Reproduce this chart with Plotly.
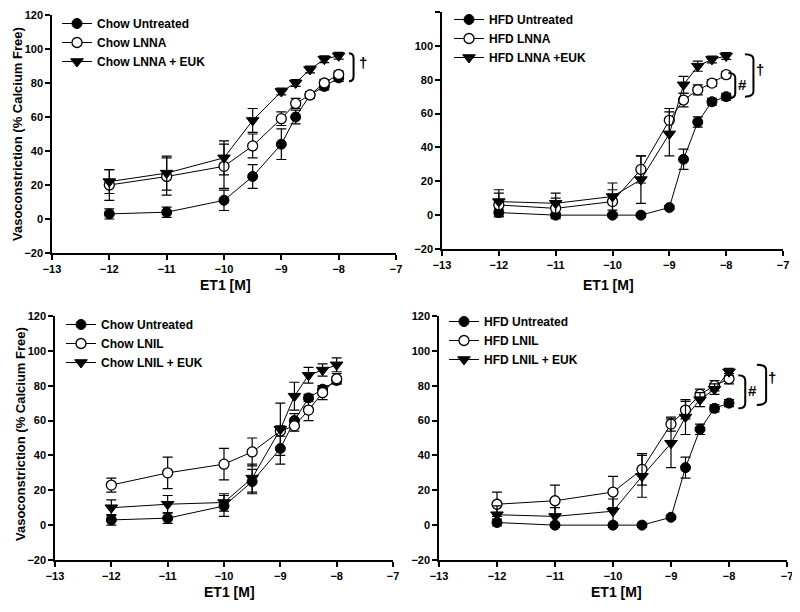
import plotly.graph_objects as go

# ---------------- data ----------------
et1_conc = [-12, -11, -10, -9.5, -9, -8.75, -8.5, -8.25, -8]

# Panel A: Chow, LNNA
chow_untreated = [3, 4, 11, 25, 44, 60, 73, 78, 83]
chow_untreated_err = [3, 3, 6, 7, 9, 4, 2, 2, 2]
chow_lnna = [20, 25, 31, 43, 59, 68, 73, 80, 85]
chow_lnna_err = [9, 11, 13, 7, 4, 3, 2, 2, 2]
chow_lnna_euk = [22, 27, 36, 58, 75, 80, 88, 94, 96]
chow_lnna_euk_err = [7, 10, 10, 7, 2, 2, 2, 2, 2]

# Panel B: HFD, LNNA
hfd_untreated = [1.5, 0, 0, 0, 4.5, 33, 55, 67, 70]
hfd_untreated_err = [2, 1, 1, 1, 1, 6, 3, 2, 2]
hfd_lnna = [6, 4, 8, 27, 56, 68, 74, 78, 83]
hfd_lnna_err = [7, 6, 7, 8, 7, 4, 3, 2, 2]
hfd_lnna_euk = [8, 7, 11, 21, 48, 77, 88, 92, 94]
hfd_lnna_euk_err = [7, 6, 8, 14, 13, 5, 3, 2, 2]

# Panel C: Chow, LNIL
chow_lnil = [23, 30, 35, 42, 54, 57, 66, 76, 84]
chow_lnil_err = [4, 9, 9, 8, 3, 3, 6, 4, 3]
chow_lnil_euk = [10, 12, 13, 27, 55, 74, 86, 89, 92]
chow_lnil_euk_err = [4.5, 5, 5, 8, 15, 8, 4.5, 3.5, 4]

# Panel D: HFD, LNIL
hfd_lnil = [12, 14, 19, 32, 58, 66, 75, 80, 84]
hfd_lnil_err = [7, 9, 9, 9, 4, 5, 3, 3, 3]
hfd_lnil_euk = [6, 5, 8, 28, 47, 62, 72, 78, 88]
hfd_lnil_euk_err = [5, 5, 7, 12, 14, 10, 4, 3, 2]

x_ticks = [-13, -12, -11, -10, -9, -8, -7]
y_ticks = [-20, 0, 20, 40, 60, 80, 100, 120]

panels = [
    ("", "legend", [("Chow Untreated", chow_untreated, chow_untreated_err, "filled"),
                    ("Chow LNNA", chow_lnna, chow_lnna_err, "open"),
                    ("Chow LNNA + EUK", chow_lnna_euk, chow_lnna_euk_err, "tri")]),
    ("2", "legend2", [("HFD Untreated", hfd_untreated, hfd_untreated_err, "filled"),
                      ("HFD LNNA", hfd_lnna, hfd_lnna_err, "open"),
                      ("HFD LNNA +EUK", hfd_lnna_euk, hfd_lnna_euk_err, "tri")]),
    ("3", "legend3", [("Chow Untreated", chow_untreated, chow_untreated_err, "filled"),
                      ("Chow LNIL", chow_lnil, chow_lnil_err, "open"),
                      ("Chow LNIL + EUK", chow_lnil_euk, chow_lnil_euk_err, "tri")]),
    ("4", "legend4", [("HFD Untreated", hfd_untreated, hfd_untreated_err, "filled"),
                      ("HFD LNIL", hfd_lnil, hfd_lnil_err, "open"),
                      ("HFD LNIL + EUK", hfd_lnil_euk, hfd_lnil_euk_err, "tri")]),
]

# the page body has an 8px margin, so the figure is drawn 8px in from the window corner
OFF = 8
W, H = 800 - OFF, 612 - OFF
FONT = "Arial, Liberation Sans, Helvetica, sans-serif"

def px_x(p):
    return (p - OFF) / W

def px_y(p):
    return 1 - (p - OFF) / H

# plot areas in window pixels (left, right, top, bottom)
areas = [(52, 396, 15, 253), (442, 783, 12, 249), (55, 393, 316, 560), (439, 787, 316, 560)]
legend_pos = [(57, 9), (449, 5), (61, 310), (444, 307)]

styles = {
    "filled": dict(symbol="circle", size=10, color="black", line=dict(color="black", width=1)),
    "open": dict(symbol="circle", size=10, color="white", line=dict(color="black", width=1.3)),
    "tri": dict(symbol="triangle-down", size=11, color="black", line=dict(color="black", width=1)),
}

fig = go.Figure()

for suffix, leg, series in panels:
    for name, yv, ev, st in series:
        fig.add_trace(go.Scatter(
            x=et1_conc, y=yv, name=name, mode="lines+markers",
            xaxis="x" + suffix, yaxis="y" + suffix, legend=leg,
            line=dict(color="black", width=1),
            marker=styles[st],
            error_y=dict(type="data", array=ev, visible=True, color="black",
                         thickness=1.2, width=5),
            cliponaxis=False,
        ))

layout = dict(
    template="none",
    width=W, height=H, paper_bgcolor="white", plot_bgcolor="white",
    margin=dict(l=0, r=0, t=0, b=0, pad=0, autoexpand=False),
    font=dict(family=FONT, color="black"),
    showlegend=True,
)

for i, (suffix, leg, _) in enumerate(panels):
    l, r, t, b = areas[i]
    ax = dict(
        domain=[px_x(l), px_x(r)], range=[-13, -7], tickmode="array",
        tickvals=x_ticks, ticks="outside", ticklen=5, tickwidth=1.5, tickcolor="black",
        showline=True, linecolor="black", linewidth=1.5, showgrid=False,
        zeroline=False, anchor="y" + suffix, automargin=False,
        tickfont=dict(family=FONT, size=11, color="black", weight="bold"),
    )
    ay = dict(
        domain=[px_y(b), px_y(t)], range=[-20, 120], tickmode="array",
        tickvals=y_ticks, ticks="outside", ticklen=5, tickwidth=1.5, tickcolor="black",
        showline=True, linecolor="black", linewidth=1.5, showgrid=False,
        zeroline=False, anchor="x" + suffix, automargin=False,
        tickfont=dict(family=FONT, size=11, color="black", weight="bold"),
    )
    layout["xaxis" + suffix] = ax
    layout["yaxis" + suffix] = ay
    lx, ly = legend_pos[i]
    layout[leg] = dict(
        x=px_x(lx), y=px_y(ly), xanchor="left", yanchor="top",
        bgcolor="rgba(0,0,0,0)", borderwidth=0,
        font=dict(family=FONT, size=12, color="black", weight="bold"),
        tracegroupgap=0,
    )

fig.update_layout(**layout)

annos = []
for cx, cy in [(225, 285), (608, 285), (229, 592), (616, 592)]:
    annos.append(dict(text="ET1 [M]", x=px_x(cx), y=px_y(cy), xref="paper", yref="paper",
                      xanchor="center", yanchor="middle", showarrow=False,
                      font=dict(family=FONT, size=14, color="black", weight="bold")))
for cx, cy in [(17, 134), (20, 434)]:
    annos.append(dict(text="Vasoconstriction (% Calcium Free)", x=px_x(cx), y=px_y(cy),
                      xref="paper", yref="paper", textangle=-90, showarrow=False,
                      xanchor="center", yanchor="middle",
                      font=dict(family=FONT, size=13, color="black", weight="bold")))

# significance brackets: (axis suffix, x0, x1, ytop, ybot, label, label x, label y)
brackets = [
    ("", -7.82, -7.74, 97.5, 81, "†", -7.57, 92),
    ("2", -7.96, -7.84, 84, 69, "#", -7.72, 77),
    ("2", -7.67, -7.52, 95, 70, "†", -7.40, 86),
    ("4", -7.84, -7.72, 86, 67, "#", -7.59, 77),
    ("4", -7.52, -7.36, 92, 69, "†", -7.26, 85),
]
shapes = []
for suf, x0, x1, yt, yb, lab, lxp, lyp in brackets:
    d = 3
    path = (f"M {x0},{yt} Q {x1},{yt} {x1},{yt - d} L {x1},{yb + d} "
            f"Q {x1},{yb} {x0},{yb}")
    shapes.append(dict(type="path", path=path, xref="x" + suf, yref="y" + suf,
                       line=dict(color="black", width=2)))
    annos.append(dict(text=lab, x=lxp, y=lyp, xref="x" + suf, yref="y" + suf,
                      xanchor="center", yanchor="middle", showarrow=False,
                      font=dict(family=FONT, size=15, color="black", weight="bold")))

fig.update_layout(annotations=annos, shapes=shapes)
fig.write_html("out.html")
